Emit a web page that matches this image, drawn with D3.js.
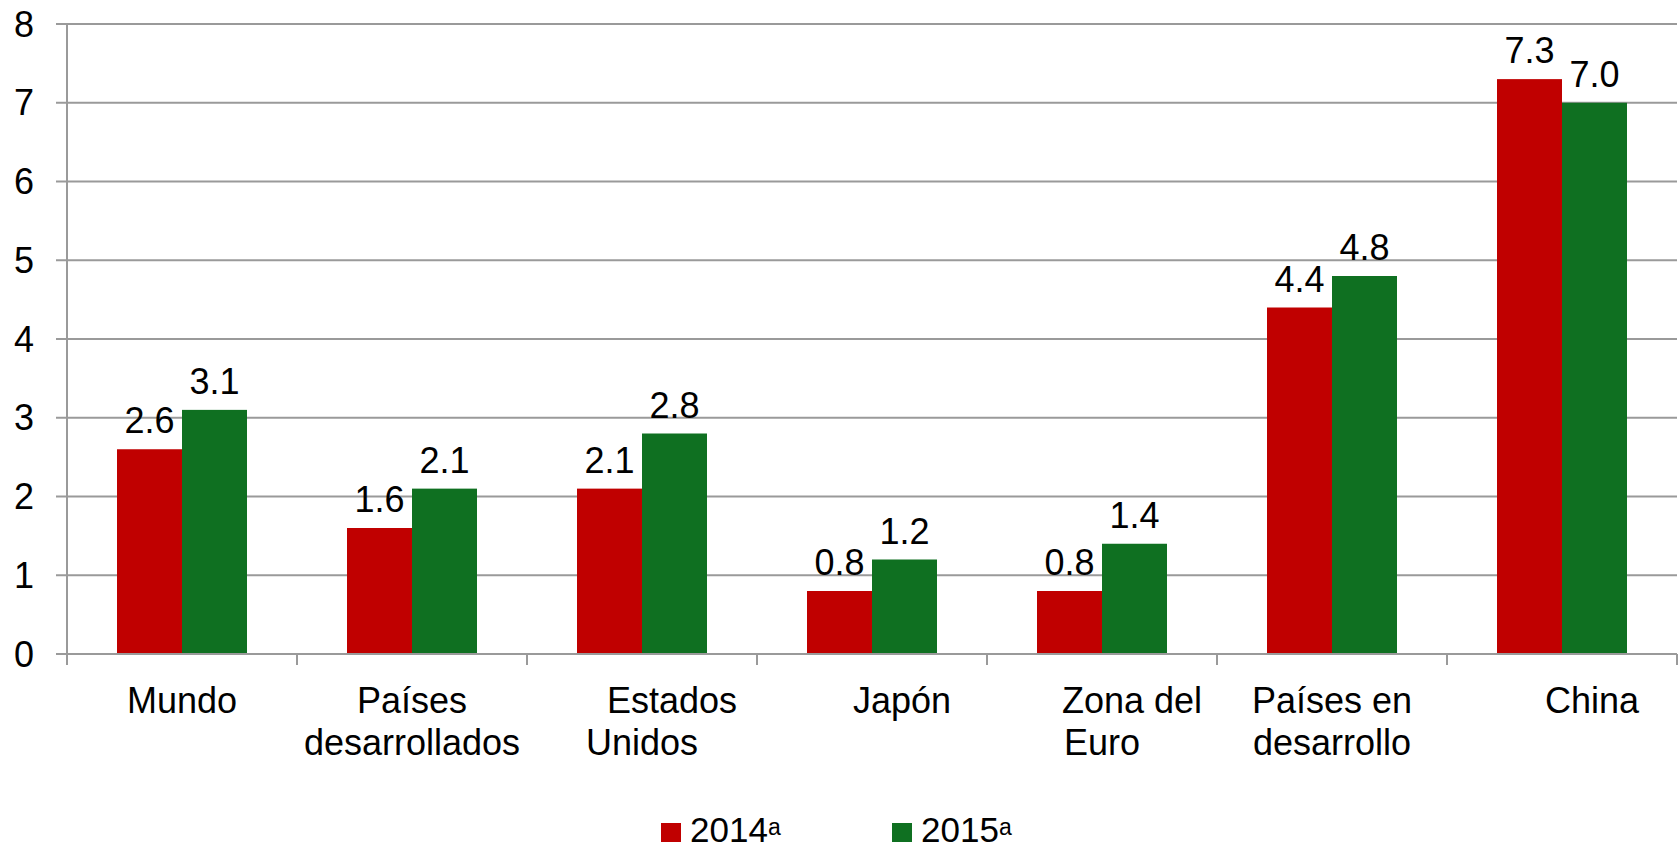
<!DOCTYPE html>
<html>
<head>
<meta charset="utf-8">
<script src="https://cdnjs.cloudflare.com/ajax/libs/d3/7.8.5/d3.min.js"></script>
<style>
  html, body { margin: 0; padding: 0; background: #fff; }
  text { font-family: "Liberation Sans", Arial, sans-serif; fill: #000; }
</style>
</head>
<body>
<div class="canvas"></div>
<script>
// Categories and their wrapped tick labels (leading spaces as in the original)
const categories = ['Mundo', 'Países desarrollados', 'Estados Unidos', 'Japón', 'Zona del Euro', 'Países en desarrollo', 'China'];
const tickLines = [
    ['Mundo'],
    ['Países', 'desarrollados'],
    ['      Estados', 'Unidos'],
    ['      Japón'],
    ['      Zona del', 'Euro'],
    ['Países en', 'desarrollo'],
    ['      China']
];
const seriesNames = ['2014', '2015'];
const values2014 = [2.6, 1.6, 2.1, 0.8, 0.8, 4.4, 7.3];
const values2015 = [3.1, 2.1, 2.8, 1.2, 1.4, 4.8, 7.0];
const yTicks = [0, 1, 2, 3, 4, 5, 6, 7, 8];

const colours = ['#c00000', '#0f7021'];

const width = 1679, height = 850;
const svg = d3.select('.canvas')
    .append('svg')
    .attr('width', width)
    .attr('height', height);

const plotLeft = 67, plotRight = 1677, plotTop = 24, plotBottom = 654;

const x = d3.scaleBand()
    .domain(categories)
    .range([plotLeft, plotRight])
    .paddingInner(0.4348)
    .paddingOuter(0.2174);

const xSeries = d3.scaleBand()
    .domain(seriesNames)
    .range([0, x.bandwidth()]);

const y = d3.scaleLinear()
    .domain([0, 8])
    .range([plotBottom, plotTop]);

const series = [values2014, values2015];
const rows = categories.map((c, i) => ({
    category: c,
    values: seriesNames.map((s, j) => ({ series: s, value: series[j][i], idx: j }))
}));

// Gridlines + y axis labels
const yAxis = svg.append('g');
yAxis.selectAll('line')
    .data(yTicks)
    .enter()
    .append('line')
    .attr('x1', plotLeft - 11)
    .attr('x2', plotRight)
    .attr('y1', d => y(d))
    .attr('y2', d => y(d))
    .attr('stroke', '#9a9a9a')
    .attr('stroke-width', 2);

yAxis.selectAll('text')
    .data(yTicks)
    .enter()
    .append('text')
    .attr('x', 34)
    .attr('y', d => y(d))
    .attr('dy', '0.35em')
    .attr('text-anchor', 'end')
    .style('font-size', '36px')
    .text(d => d);

// Bars
const groups = svg.selectAll('g.cat')
    .data(rows)
    .enter()
    .append('g')
    .attr('class', 'cat')
    .attr('transform', d => `translate(${x(d.category)}, 0)`);

groups.selectAll('rect')
    .data(d => d.values)
    .enter()
    .append('rect')
    .attr('x', d => xSeries(d.series))
    .attr('y', d => y(d.value))
    .attr('width', xSeries.bandwidth())
    .attr('height', d => y(0) - y(d.value))
    .attr('fill', d => colours[d.idx]);

groups.selectAll('text')
    .data(d => d.values)
    .enter()
    .append('text')
    .attr('x', d => xSeries(d.series) + xSeries.bandwidth() / 2)
    .attr('y', d => y(d.value) - 16)
    .attr('text-anchor', 'middle')
    .style('font-size', '36px')
    .text(d => d3.format('.1f')(d.value));

// Axis lines
svg.append('line')
    .attr('x1', plotLeft).attr('x2', plotLeft)
    .attr('y1', plotTop).attr('y2', plotBottom + 11)
    .attr('stroke', '#9a9a9a').attr('stroke-width', 2);

svg.append('line')
    .attr('x1', plotLeft).attr('x2', plotRight)
    .attr('y1', plotBottom).attr('y2', plotBottom)
    .attr('stroke', '#9a9a9a').attr('stroke-width', 2);

const boundaries = categories.map(c => x(c) - x.step() * x.paddingOuter()).concat([plotRight]);
svg.selectAll('line.xtick')
    .data(boundaries)
    .enter()
    .append('line')
    .attr('class', 'xtick')
    .attr('x1', d => d).attr('x2', d => d)
    .attr('y1', plotBottom).attr('y2', plotBottom + 11)
    .attr('stroke', '#9a9a9a').attr('stroke-width', 2);

// Category labels
const xLabels = svg.selectAll('text.xlab')
    .data(rows)
    .enter()
    .append('text')
    .attr('class', 'xlab')
    .attr('text-anchor', 'middle')
    .attr('xml:space', 'preserve')
    .style('white-space', 'pre')
    .style('font-size', '36px');

xLabels.selectAll('tspan')
    .data((d, i) => tickLines[i].map(line => ({ line, cx: x(d.category) + x.bandwidth() / 2 })))
    .enter()
    .append('tspan')
    .attr('x', d => d.cx)
    .attr('y', (d, i) => 713 + i * 42)
    .text(d => d.line);

// Legend
const legendX = [661, 892];
const legend = svg.selectAll('g.legend')
    .data(seriesNames)
    .enter()
    .append('g')
    .attr('class', 'legend')
    .attr('transform', (d, i) => `translate(${legendX[i]}, 823)`);

legend.append('rect')
    .attr('width', 20)
    .attr('height', 19)
    .attr('fill', (d, i) => colours[i]);

const lt = legend.append('text')
    .attr('x', 29)
    .attr('y', 19)
    .style('font-size', '35px');
lt.append('tspan').text(d => d);
lt.append('tspan')
    .attr('dy', -7)
    .style('font-size', '23px')
    .text('a');
</script>
</body>
</html>
